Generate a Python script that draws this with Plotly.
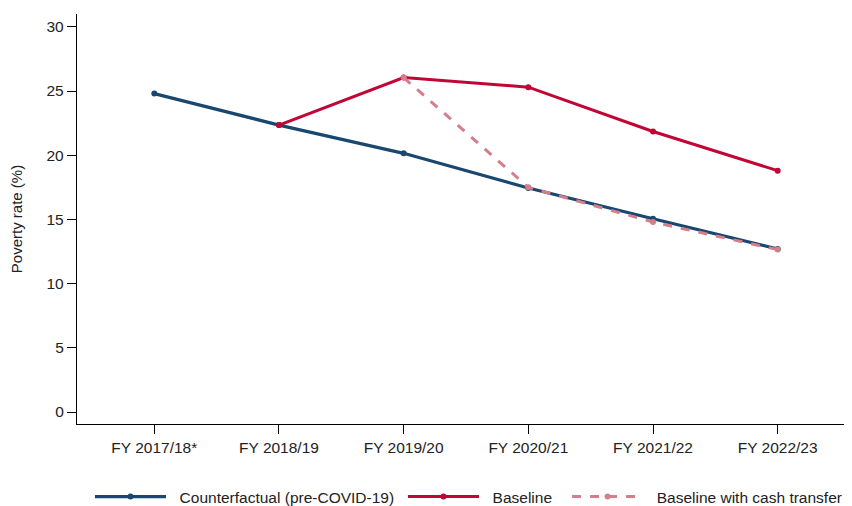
import plotly.graph_objects as go

years = ["FY 2017/18*", "FY 2018/19", "FY 2019/20", "FY 2020/21", "FY 2021/22", "FY 2022/23"]
counterfactual = [24.8, 22.35, 20.15, 17.45, 15.05, 12.7]
baseline = [None, 22.35, 26.05, 25.3, 21.85, 18.8]
cash_transfer = [None, None, 26.05, 17.5, 14.8, 12.65]
series_names = ["Counterfactual (pre-COVID-19)", "Baseline", "Baseline with cash transfer"]

NB = "\u00a0"
fig = go.Figure()
fig.add_trace(go.Scatter(x=years, y=counterfactual, mode="lines+markers",
                         name=NB * 2 + series_names[0], legend="legend",
                         line=dict(color="#1a476f", width=3.2),
                         marker=dict(size=6, color="#1a476f")))
fig.add_trace(go.Scatter(x=years, y=baseline, mode="lines+markers",
                         name=NB * 2 + series_names[1], legend="legend2",
                         line=dict(color="#c10534", width=3),
                         marker=dict(size=6, color="#c10534")))
fig.add_trace(go.Scatter(x=years, y=cash_transfer, mode="lines+markers",
                         name=NB * 2 + series_names[2] + NB * 2, legend="legend3",
                         line=dict(color="#d47e8c", width=3, dash="dash"),
                         marker=dict(size=6, color="#d47e8c")))

font = "Liberation Sans, Arial, sans-serif"
leg_common = dict(orientation="h", xanchor="left", y=-0.178, yanchor="middle",
                  font=dict(size=15.5), itemwidth=71, bgcolor="rgba(0,0,0,0)")
fig.update_layout(
    width=852, height=506,
    margin=dict(l=69, r=10, t=6, b=90, autoexpand=False),
    paper_bgcolor="white", plot_bgcolor="white",
    font=dict(family=font, size=15.5, color="#222222"),
    showlegend=True,
    legend=dict(x=0.0168, **leg_common),
    legend2=dict(x=0.4217, **leg_common),
    legend3=dict(x=0.6340, **leg_common),
    xaxis=dict(type="category", range=[-0.62, 5.58], showline=True, linecolor="black",
               linewidth=1.3, ticks="outside", ticklen=9, tickcolor="black",
               showgrid=False, zeroline=False, tickfont=dict(size=15.5), automargin=False),
    yaxis=dict(range=[-0.93, 31.0], showline=True, linecolor="black", linewidth=1.3,
               ticks="outside", ticklen=9, tickcolor="black", tickvals=[0, 5, 10, 15, 20, 25, 30],
               showgrid=False, zeroline=False, tickfont=dict(size=15.5), automargin=False,
               title=dict(text="Poverty rate (%)", font=dict(size=15), standoff=20)),
)
fig.write_html("out.html")
